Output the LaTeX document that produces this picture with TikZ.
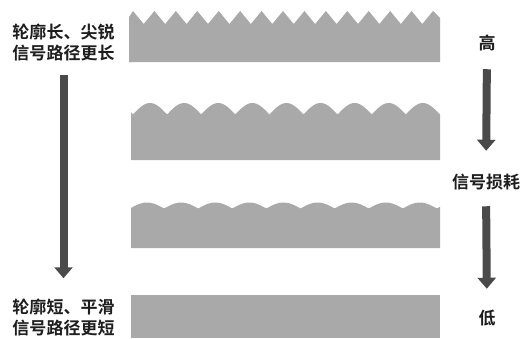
\documentclass[tikz,border=0pt]{standalone}
\usepackage{fontspec}
\usepackage{xcolor}
\usetikzlibrary{positioning, arrows.meta}
\newfontfamily\cjk{Noto Sans CJK SC}[BoldFont={Noto Sans CJK SC Bold}]
\definecolor{bargray}{HTML}{A9A9A9}
\definecolor{arrgray}{HTML}{4A4A4A}
\definecolor{txtgray}{HTML}{1E1E1E}

\begin{document}
\begin{tikzpicture}[x=1pt, y=-1pt,
		lbl/.style={font=\cjk\bfseries\fontsize{17}{21}\selectfont, text=txtgray, inner sep=0pt, align=left},
		bar/.style={fill=bargray},
		bigarrow/.style={draw=arrgray, line width=8pt, -{Triangle[width=18pt, length=11pt]}}]
			\useasboundingbox (0,0) rectangle (526,338);
			
			% surfaces, rough to smooth
			\fill[bar] (129,62) -- (129,17)
			foreach \i in {0,...,13} { -- ({133+21.43*\i},11) -- ({143.7+21.43*\i},24) }
			-- (433,11) -- (440,18) -- (440,62) -- cycle;
			\fill[bar] (131,160) -- plot[domain=131:440, samples=240] (\x, {114.5-11.5*abs(sin(5.2786*(\x-133)))}) -- (440,160) -- cycle;
			\fill[bar] (131,248) -- plot[domain=131:440, samples=240] (\x, {208.5-6*abs(sin(5.2786*(\x-130)))}) -- (440,248) -- cycle;
			\fill[bar] (131,295) rectangle (440,338);
			
			\node[lbl] (rough) at (63.5,42.5) {轮廓长、尖锐\\信号路径更长};
			\node[lbl] (smooth) at (63.5,317) {轮廓短、平滑\\信号路径更短};
			\node[lbl] (high) at (487,43) {高};
			\node[lbl] (loss) at (486,182) {信号损耗};
			\node[lbl] (low) at (487,318) {低};
			
			\draw[bigarrow, shorten <=14pt, shorten >=20pt] (rough.south) -- (smooth.north);
			\draw[bigarrow, shorten <=18pt, shorten >=23pt] (high.south) -- (loss.north);
			\draw[bigarrow, shorten <=16pt, shorten >=21pt] (loss.south) -- (low.north);
			
		\end{tikzpicture}
\end{document}
